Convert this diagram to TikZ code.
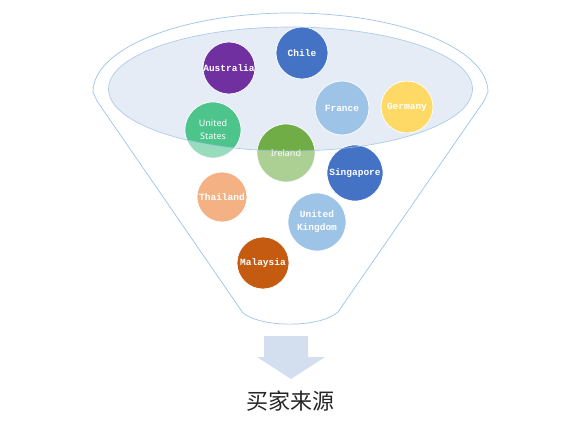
\documentclass[tikz,border=0pt]{standalone}
\usepackage{fontspec}
\setmainfont{Liberation Mono}
\newfontfamily\cjk{Noto Sans CJK SC}
\newfontfamily\yahei{Noto Sans}
\usetikzlibrary{positioning}
\definecolor{funnelline}{RGB}{157,195,230}
\definecolor{funnelfill}{RGB}{229,236,246}
\definecolor{arrowfill}{RGB}{211,222,239}
\definecolor{cpurple}{RGB}{112,48,160}
\definecolor{cblue}{RGB}{68,114,196}
\definecolor{clight}{RGB}{157,195,230}
\definecolor{cyellow}{RGB}{255,217,102}
\definecolor{cmint}{RGB}{76,196,140}
\definecolor{cgreen}{RGB}{112,173,71}
\definecolor{cpeach}{RGB}{244,177,131}
\definecolor{corange}{RGB}{197,90,17}

\begin{document}
\begin{tikzpicture}[x=1pt, y=1pt,
    country/.style={circle, draw=white, line width=0.7pt, fill=#1,
                    inner sep=0pt, minimum size=52pt, align=center,
                    text=white, font=\bfseries\fontsize{9.5}{13}\selectfont},
    sans/.style={font=\yahei\fontsize{9}{13}\selectfont},
    funnel/.style={draw=funnelline, line width=0.7pt}
  ]
    \useasboundingbox (0,0) rectangle (566,-423);

    % funnel body
    \draw[funnel] (97,-101) -- (93,-92)
      arc[start angle=180, end angle=0, x radius=197.5, y radius=79]
      -- (484,-101) -- (338,-312)
      .. controls (320,-328) and (262,-328) .. (243,-313) -- cycle;
    \fill[funnelfill] (290.5,-89) ellipse[x radius=182, y radius=62];

    % countries
    \node[country=cpurple] (aus) at (229,-68) {Australia};
    \node[country=cblue] (chl) at (302,-53) {Chile};
    \node[country=clight, minimum size=54pt] (fra) at (342,-108) {France};
    \node[country=cyellow] (ger) at (407,-107) {Germany};
    \node[country=cmint, sans, minimum size=56pt] (usa) at (213,-130) {United\\States};
    \node[country=cgreen, sans, minimum size=58pt] (irl) at (286,-153) {Ireland};
    \node[country=cblue, minimum size=56pt] (sgp) at (355,-173) {Singapore};
    \node[country=cpeach, minimum size=50pt] (tha) at (222,-197) {Thailand};
    \node[country=clight, minimum size=58pt] (gbr) at (317,-222) {United\\Kingdom};
    \node[country=corange] (mys) at (263,-263) {Malaysia};

    % lighter where the circles leave the rim
    \begin{scope}
      \clip (usa) circle[radius=28] (irl) circle[radius=29];
      \fill[white, fill opacity=0.42, even odd rule]
        (0,0) rectangle (566,-423)
        (290.5,-89) ellipse[x radius=182, y radius=62];
    \end{scope}
    \draw[funnel, draw opacity=0.8] (290.5,-89) ellipse[x radius=182, y radius=62];

    % arrow and caption
    \fill[arrowfill] (264,-336) -- (308,-336) -- (308,-357) -- (325,-357)
      -- (291,-379) -- (257,-357) -- (264,-357) -- cycle;
    \node[font=\cjk\fontsize{22}{24}\selectfont, text=black!85] (title) at (290,-401) {买家来源};
\end{tikzpicture}
\end{document}
